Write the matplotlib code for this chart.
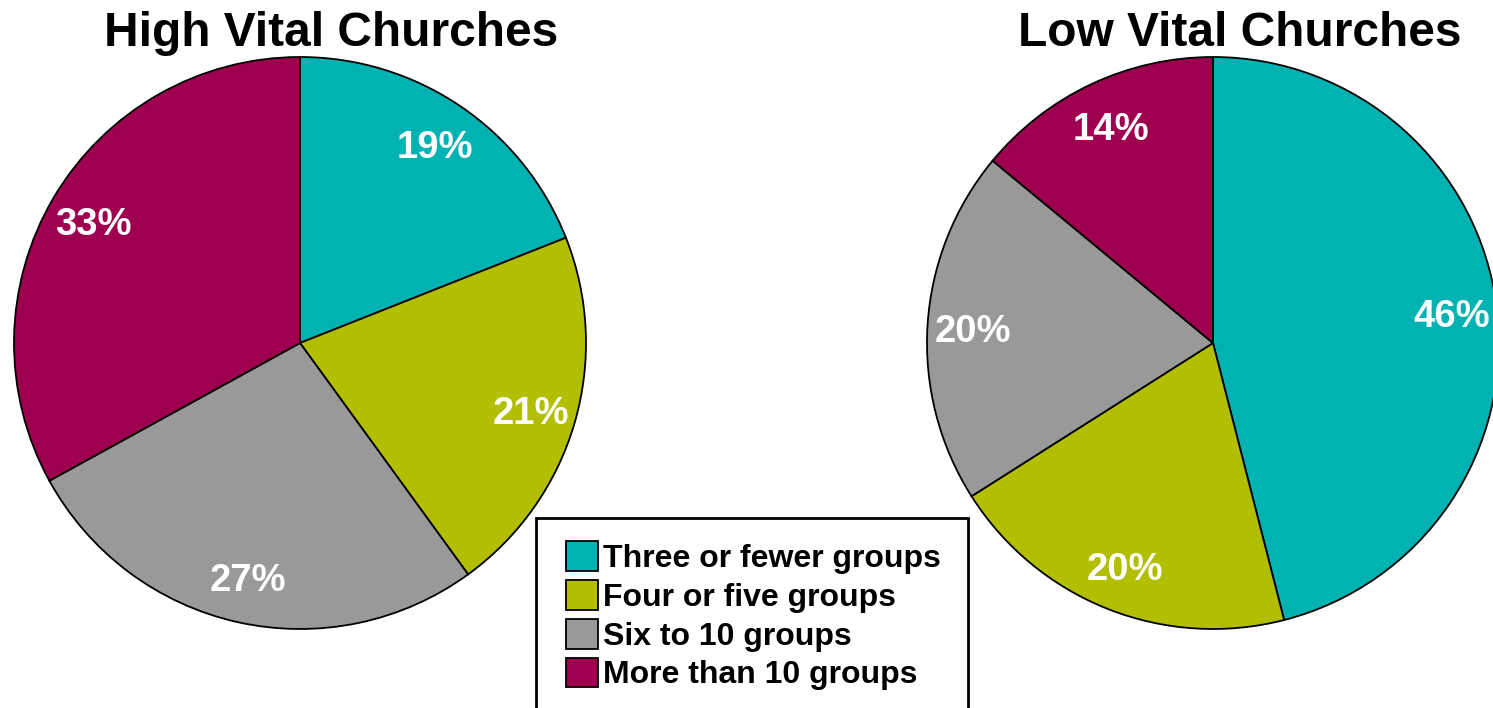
import matplotlib.pyplot as plt
from matplotlib.patches import Rectangle

plt.rcParams['font.family'] = ['Liberation Sans', 'DejaVu Sans']
plt.rcParams['font.weight'] = 'bold'

# data
categories = ["Three or fewer groups", "Four or five groups",
              "Six to 10 groups", "More than 10 groups"]
high_vital = [19, 21, 27, 33]
low_vital = [46, 20, 20, 14]
colors = ["#00B2B2", "#B2BE00", "#999999", "#9E004F"]

W, H = 1493, 708
fig = plt.figure(figsize=(W / 100, H / 100), dpi=100)

R = 286
def pie_axes(cx, cy):
    return fig.add_axes([(cx - R) / W, (H - cy - R) / H, 2 * R / W, 2 * R / H])

ax1 = pie_axes(300, 343)
ax2 = pie_axes(1213, 343)

for ax, vals, title, tx in [(ax1, high_vital, "High Vital Churches", 331),
                            (ax2, low_vital, "Low Vital Churches", 1240)]:
    wedges, texts, autotexts = ax.pie(
        vals, colors=colors, startangle=90, counterclock=False,
        autopct='%d%%', pctdistance=0.84, radius=1,
        wedgeprops=dict(edgecolor='black', linewidth=1.3),
        textprops=dict(color='white', fontsize=27.5, fontweight='bold'))
    for t in autotexts:
        t.set_va('center_baseline')
    ax.set_xlim(-1, 1)
    ax.set_ylim(-1, 1)
    ax.set_aspect('equal')
    for w in wedges:
        w.set_clip_on(False)
    fig.text(tx / W, 1 - 46 / H, title, ha='center', va='baseline',
             fontsize=34.5, fontweight='bold')

handles = ax1.patches[:4]
leg = fig.legend(handles, categories, loc='upper left',
                 bbox_to_anchor=(566 / W, 1 - 541 / H), frameon=False,
                 fontsize=23, borderpad=0, borderaxespad=0,
                 handlelength=1.0, handleheight=1.06, handletextpad=0.15,
                 labelspacing=0.19)
for t in leg.get_texts():
    t.set_fontweight('bold')

fig.patches.append(Rectangle((536 / W, -20 / H), (968 - 536) / W, (H - 518 + 20) / H,
                             transform=fig.transFigure, fill=False,
                             edgecolor='black', linewidth=2))

fig.savefig('out.png', dpi=100)
